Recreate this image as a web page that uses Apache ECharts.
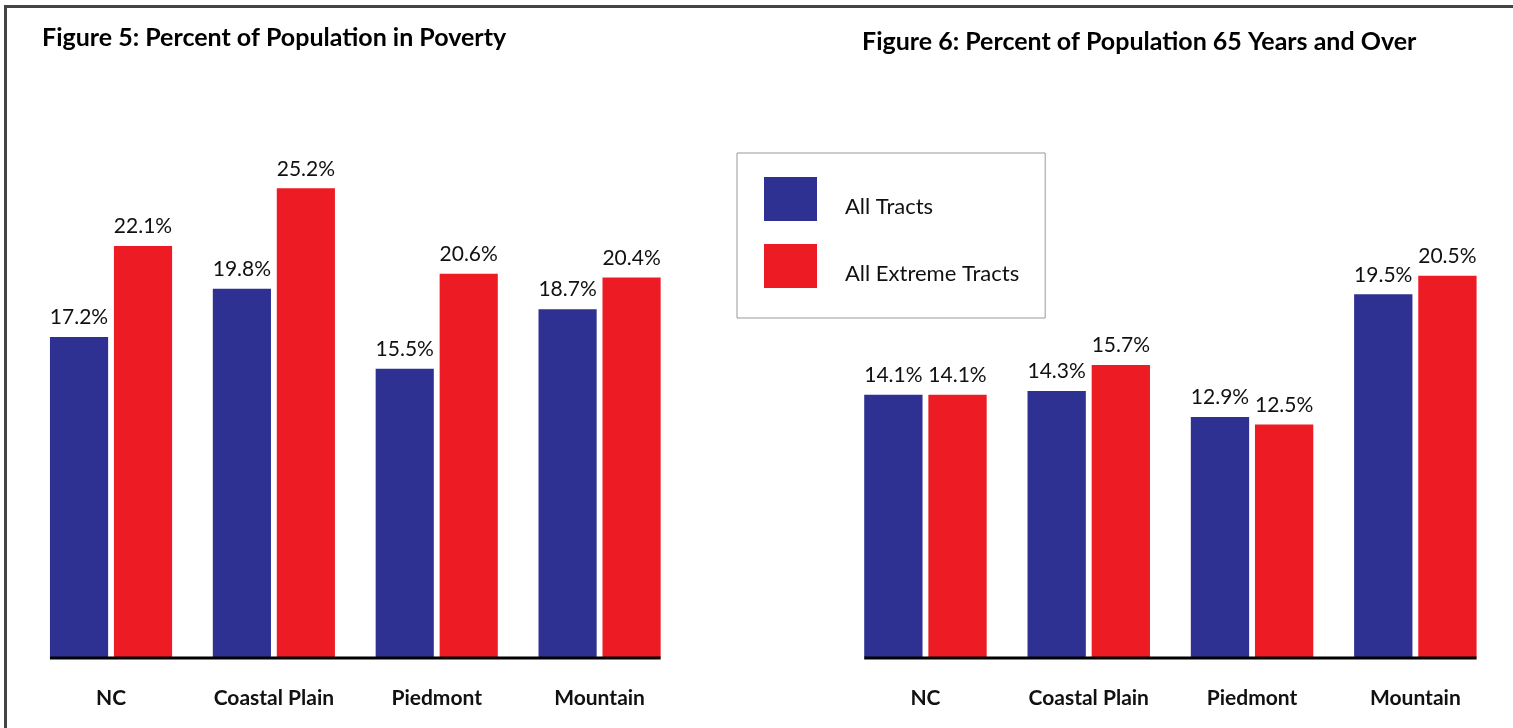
<!DOCTYPE html>
<html>
<head>
<meta charset="utf-8">
<script src="https://cdn.jsdelivr.net/npm/echarts@6/dist/echarts.min.js"></script>
<style>
  html, body { margin: 0; padding: 0; background: #fff; }
  #main { width: 1513px; height: 728px; }
</style>
</head>
<body>
<div id="main"></div>
<script>
var regions = ['NC', 'Coastal Plain', 'Piedmont', 'Mountain'];
var seriesNames = ['All Tracts', 'All Extreme Tracts'];
// Figure 5: percent in poverty
var povertyAll = [17.2, 19.8, 15.5, 18.7];
var povertyExtreme = [22.1, 25.2, 20.6, 20.4];
// Figure 6: percent 65 years and over
var elderlyAll = [14.1, 14.3, 12.9, 19.5];
var elderlyExtreme = [14.1, 15.7, 12.5, 20.5];

var BLUE = '#2e3192';
var RED = '#ed1c24';
var FONT = 'Lato';

var grids = [
    {left: 29.6, top: 99, width: 651.4, height: 558},
    {left: 843.8, top: 99, width: 653.2, height: 558}
];
var catGap = 0.25;

function barSeries(name, data, idx, color) {
    return {
        name: name,
        type: 'bar',
        xAxisIndex: idx,
        yAxisIndex: idx,
        data: data,
        barGap: '10%',
        barCategoryGap: '25%',
        itemStyle: {color: color},
        label: {
            show: true,
            position: 'top',
            distance: 9,
            fontFamily: FONT,
            fontSize: 21,
            color: '#111',
            formatter: function (p) { return p.value.toFixed(1) + '%'; }
        }
    };
}

function xAxisFor(idx) {
    return {
        type: 'category',
        gridIndex: idx,
        data: regions,
        axisLine: {show: false},
        axisTick: {show: false},
        axisLabel: {
            margin: 31,
            fontFamily: FONT,
            fontWeight: 'bold',
            fontSize: 21,
            color: '#111'
        }
    };
}

function yAxisFor(idx) {
    return {
        type: 'value',
        gridIndex: idx,
        min: 0,
        max: 30,
        show: false,
        splitLine: {show: false}
    };
}

var myChart = echarts.init(document.getElementById('main'));
var option = {
    backgroundColor: '#fff',
    animation: false,
    title: [
        {
            text: 'Figure 5: Percent of Population in Poverty',
            left: 37, top: 20,
            textStyle: {fontFamily: FONT, fontWeight: 'bold', fontSize: 25, color: '#000'}
        },
        {
            text: 'Figure 6: Percent of Population 65 Years and Over',
            left: 857, top: 24,
            textStyle: {fontFamily: FONT, fontWeight: 'bold', fontSize: 25, color: '#000'}
        }
    ],
    legend: {
        data: seriesNames,
        orient: 'vertical',
        left: 737,
        top: 153,
        padding: [24, 26, 30, 27],
        borderColor: '#999',
        borderWidth: 1,
        itemWidth: 53,
        itemHeight: 44,
        itemGap: 23,
        icon: 'rect',
        // push the name a little below the middle of its swatch
        formatter: function (name) { return '\n' + name; },
        textStyle: {
            fontFamily: FONT, fontSize: 22, color: '#111',
            lineHeight: 16,
            padding: [0, 0, 0, 23]
        }
    },
    grid: grids,
    xAxis: [xAxisFor(0), xAxisFor(1)],
    yAxis: [yAxisFor(0), yAxisFor(1)],
    series: [
        barSeries(seriesNames[0], povertyAll, 0, BLUE),
        barSeries(seriesNames[1], povertyExtreme, 0, RED),
        barSeries(seriesNames[0], elderlyAll, 1, BLUE),
        barSeries(seriesNames[1], elderlyExtreme, 1, RED)
    ]
};
myChart.setOption(option);

// baselines: span only the bar groups, found through the axis scales
var lines = [];
for (var g = 0; g < 2; g++) {
    var catW = grids[g].width / regions.length;
    var x0 = myChart.convertToPixel({xAxisIndex: g}, regions[0]) - catW * (1 - catGap) / 2;
    var x1 = myChart.convertToPixel({xAxisIndex: g}, regions[regions.length - 1]) + catW * (1 - catGap) / 2;
    var y0 = myChart.convertToPixel({yAxisIndex: g}, 0);
    lines.push({
        type: 'line',
        shape: {x1: x0, y1: y0 + 1, x2: x1, y2: y0 + 1},
        style: {stroke: '#000', lineWidth: 3},
        z: 10
    });
}
// page frame
lines.push({
    type: 'rect',
    shape: {x: 5.5, y: 6.5, width: 1700, height: 900},
    style: {fill: null, stroke: '#444', lineWidth: 3},
    z: 20
});
myChart.setOption({graphic: lines});
</script>
</body>
</html>
